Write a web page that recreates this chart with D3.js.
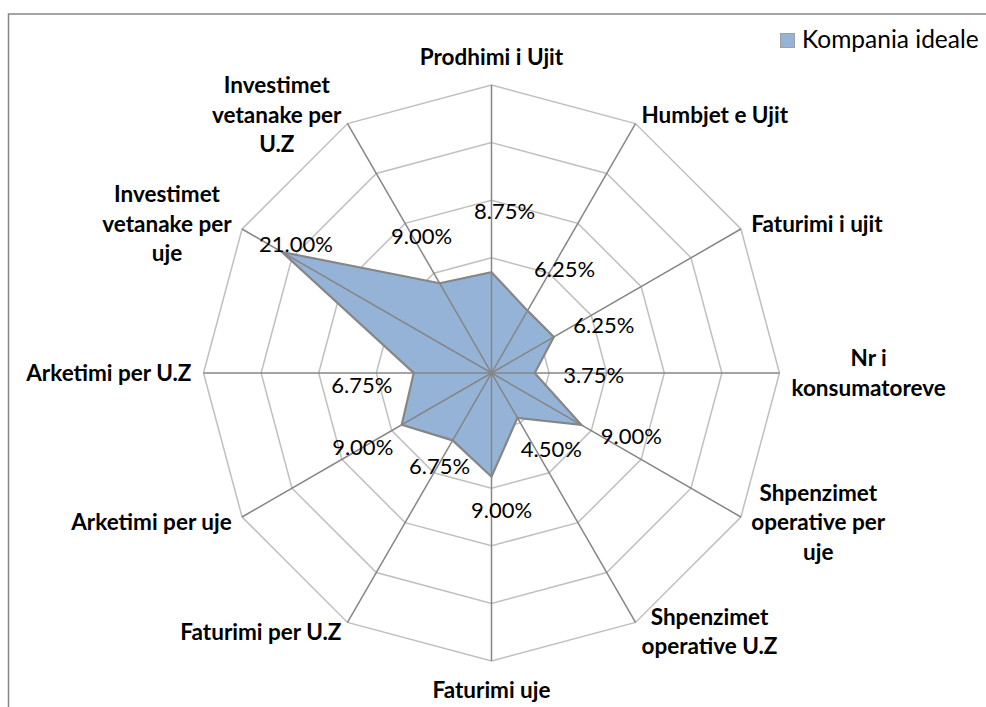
<!DOCTYPE html>
<html>
<head>
<meta charset="utf-8">
<script src="https://cdn.jsdelivr.net/npm/d3@7/dist/d3.min.js"></script>
<style>
  body { margin: 0; background: #fff; }
  svg { display: block; }
</style>
</head>
<body>
<div id="chart"></div>
<script>
// axis names (already wrapped the way the original shows them), clockwise from the top
const categories = [
  ["Prodhimi i Ujit"],
  ["Humbjet e Ujit"],
  ["Faturimi i ujit"],
  ["Nr i", "konsumatoreve"],
  ["Shpenzimet", "operative per", "uje"],
  ["Shpenzimet", "operative U.Z"],
  ["Faturimi uje"],
  ["Faturimi per U.Z"],
  ["Arketimi per uje"],
  ["Arketimi per U.Z"],
  ["Investimet", "vetanake per", "uje"],
  ["Investimet", "vetanake per", "U.Z"]
];
const seriesName = "Kompania ideale";
const values = [8.75, 6.25, 6.25, 3.75, 9.00, 4.50, 9.00, 6.75, 9.00, 6.75, 21.00, 9.00];
const ringTicks = [5, 10, 15, 20, 25];

// where excel dropped each data label, relative to its point
const labelNudge = [[13, -61], [37, -42], [50, -12], [59, 2], [50, 11], [34, 31],
  [10, 33], [-13, 26], [-39, 22], [-52, 12], [14, -8], [-18, -47]];

const W = 986, H = 707;
const cx = 491.5, cy = 373, R = 288;
const fill = "#95b3d7", axisGrey = "#868686", gridGrey = "#bfbfbf";
const font = "Lato, 'Open Sans', sans-serif";

const svg = d3.select("#chart").append("svg")
  .attr("width", W)
  .attr("height", H);

// chart area border (runs off the right and bottom of the shot)
svg.append("rect")
  .attr("x", 8.5).attr("y", 14)
  .attr("width", 1200).attr("height", 1200)
  .attr("fill", "none")
  .attr("stroke", axisGrey)
  .attr("stroke-width", 1.5);

const r = d3.scaleLinear().domain([0, 25]).range([0, R]);
const angle = d3.scaleLinear().domain([0, categories.length]).range([0, 2 * Math.PI]);

const g = svg.append("g").attr("transform", "translate(" + cx + "," + cy + ")");

// polygon rings
const ring = d3.lineRadial()
  .angle((d, i) => angle(i))
  .radius(d => r(d))
  .curve(d3.curveLinearClosed);

g.selectAll(".ring")
  .data(ringTicks)
  .enter()
  .append("path")
  .attr("class", "ring")
  .attr("d", t => ring(categories.map(() => t)))
  .attr("fill", "none")
  .attr("stroke", gridGrey)
  .attr("stroke-width", 1.5);

// the series
g.append("path")
  .attr("d", ring(values))
  .attr("fill", fill)
  .attr("stroke", axisGrey)
  .attr("stroke-width", 2.2)
  .attr("stroke-linejoin", "miter");

// spokes on top of the fill
const pos = (i, v) => {
  const a = angle(i);
  return [Math.sin(a) * r(v), -Math.cos(a) * r(v)];
};

g.selectAll(".spoke")
  .data(categories)
  .enter()
  .append("line")
  .attr("class", "spoke")
  .attr("x1", 0).attr("y1", 0)
  .attr("x2", (d, i) => pos(i, 25)[0])
  .attr("y2", (d, i) => pos(i, 25)[1])
  .attr("stroke", axisGrey)
  .attr("stroke-width", 1.5);

// data labels
g.selectAll(".val")
  .data(values)
  .enter()
  .append("text")
  .attr("class", "val")
  .attr("x", (d, i) => pos(i, d)[0] + labelNudge[i][0])
  .attr("y", (d, i) => pos(i, d)[1] + labelNudge[i][1] + 8)
  .attr("text-anchor", "middle")
  .style("font-family", font)
  .style("font-size", "22px")
  .attr("fill", "#000")
  .text(d => d.toFixed(2) + "%");

// category labels outside the outer ring
const lineH = 29.5, capH = 16;
categories.forEach((lines, i) => {
  const a = angle(i);
  const s = Math.sin(a), c = Math.cos(a);
  const end = pos(i, 25);
  const lab = g.append("text")
    .style("font-family", font)
    .style("font-size", "22.5px")
    .style("font-weight", "bold")
    .attr("text-anchor", "middle")
    .attr("fill", "#000");
  const spans = lines.map(t => lab.append("tspan").text(t));
  const wMax = d3.max(spans, sp => sp.node().getComputedTextLength());
  const blockH = capH + (lines.length - 1) * lineH;
  let x, top;
  if (Math.abs(s) < 0.1) {
    x = end[0];
    top = c > 0 ? end[1] - 20 - blockH : end[1] + 21;
  } else {
    const gap = 12 * Math.abs(s);
    x = end[0] + Math.sign(s) * (gap + wMax / 2);
    top = end[1] - 10.5 * c - blockH / 2;
  }
  spans.forEach((sp, k) => {
    sp.attr("x", x).attr("y", top + capH + k * lineH);
  });
});

// legend
svg.append("rect")
  .attr("x", 780.5).attr("y", 33.5)
  .attr("width", 14).attr("height", 14)
  .attr("fill", fill)
  .attr("stroke", "#a0a0a0")
  .attr("stroke-width", 1);

svg.append("text")
  .attr("x", 802)
  .attr("y", 47.5)
  .style("font-family", font)
  .style("font-size", "24.5px")
  .attr("fill", "#000")
  .text(seriesName);
</script>
</body>
</html>
